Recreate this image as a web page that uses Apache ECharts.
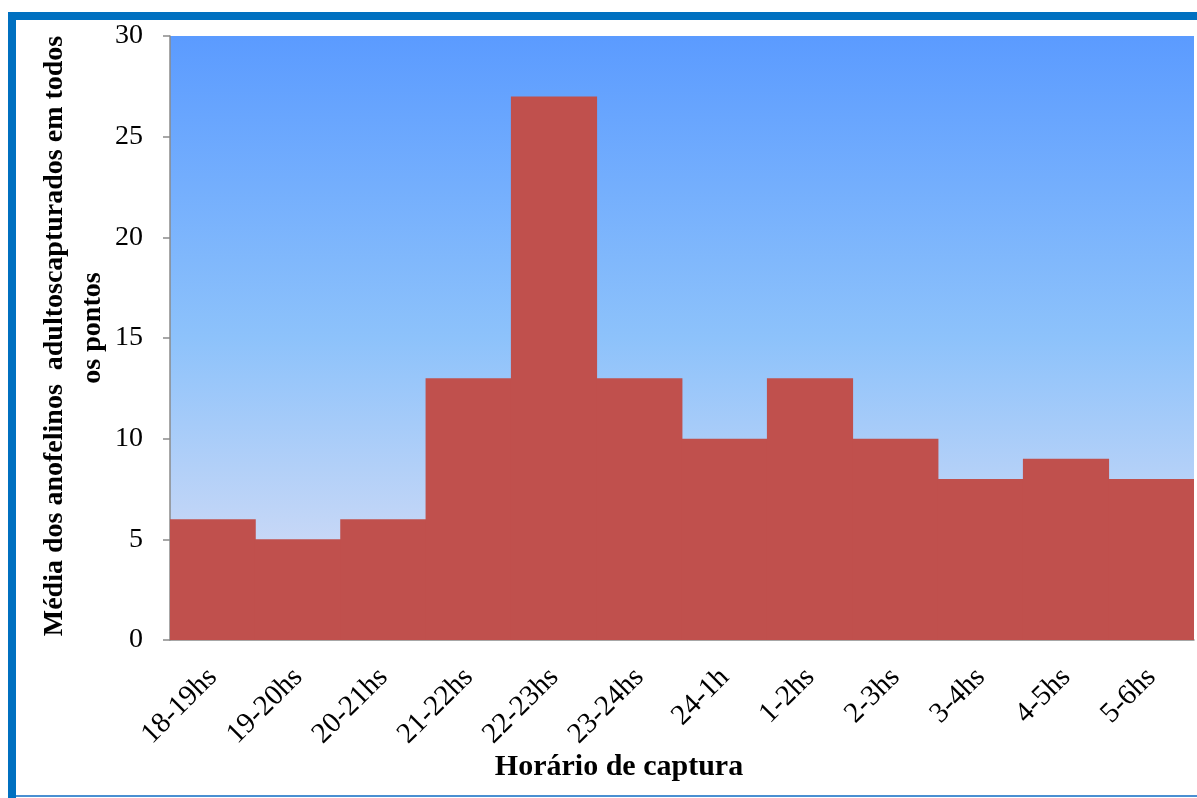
<!DOCTYPE html>
<html>
<head>
<meta charset="utf-8">
<script src="https://cdn.jsdelivr.net/npm/echarts@6/dist/echarts.min.js"></script>
<style>
  html, body { margin: 0; padding: 0; background: #ffffff; }
  #chart { width: 1197px; height: 798px; }
</style>
</head>
<body>
<div id="chart"></div>
<script>
// Capture hour intervals and mean number of adult anophelines captured
const horarios = ['18-19hs', '19-20hs', '20-21hs', '21-22hs', '22-23hs', '23-24hs',
                  '24-1h', '1-2hs', '2-3hs', '3-4hs', '4-5hs', '5-6hs'];
const mediaCapturados = [6, 5, 6, 13, 27, 13, 10, 13, 10, 8, 9, 8];
const yTicks = [0, 5, 10, 15, 20, 25, 30];

const tituloX = 'Horário de captura';
const tituloYLinha1 = 'Média dos anofelinos  adultoscapturados em todos';
const tituloYLinha2 = 'os pontos';

const serif = '"Liberation Serif", "Times New Roman", serif';

const chart = echarts.init(document.getElementById('chart'), null, { renderer: 'canvas' });

chart.setOption({
  animation: false,
  backgroundColor: '#ffffff',
  grid: {
    left: 170, top: 36, right: 3, bottom: 158,
    show: true,
    borderWidth: 0,
    backgroundColor: new echarts.graphic.LinearGradient(0, 0, 0, 1, [
      { offset: 0, color: '#5b9bff' },
      { offset: 0.5, color: '#8dc2fb' },
      { offset: 1, color: '#e3e2f4' }
    ])
  },
  xAxis: {
    type: 'category',
    data: horarios,
    axisLine: { show: true, lineStyle: { color: '#8a8a8a', width: 1.5 } },
    axisTick: { show: false },
    axisLabel: {
      rotate: 45,
      margin: 33,
      color: '#000000',
      fontFamily: serif,
      fontSize: 29,
      interval: 0
    }
  },
  yAxis: {
    type: 'value',
    min: yTicks[0],
    max: yTicks[yTicks.length - 1],
    interval: yTicks[1] - yTicks[0],
    splitLine: { show: false },
    axisLine: { show: true, lineStyle: { color: '#8a8a8a', width: 1.5 } },
    axisTick: { show: true, length: 7, lineStyle: { color: '#8a8a8a', width: 1.5 } },
    axisLabel: {
      margin: 27,
      color: '#000000',
      fontFamily: serif,
      fontSize: 28
    }
  },
  series: [{
    type: 'bar',
    data: mediaCapturados,
    // adjacent bars touch with no visible seam between them
    barWidth: '101%',
    itemStyle: { color: '#c0504d', borderWidth: 0 }
  }],
  graphic: [
    // blue frame around the figure
    { type: 'rect', shape: { x: 8, y: 12, width: 1189, height: 8 }, style: { fill: '#0070c0' }, z: 100 },
    { type: 'rect', shape: { x: 8, y: 12, width: 8, height: 786 }, style: { fill: '#0070c0' }, z: 100 },
    { type: 'rect', shape: { x: 16, y: 795, width: 1181, height: 2 }, style: { fill: '#4a8fd2' }, z: 100 },
    // horizontal axis title
    {
      type: 'text', x: 619, y: 767,
      style: {
        text: tituloX, fill: '#000000',
        font: 'bold 30px ' + serif,
        align: 'center', verticalAlign: 'middle'
      }
    },
    // two-line vertical axis title
    {
      type: 'text', x: 55, y: 336, rotation: Math.PI / 2,
      style: {
        text: tituloYLinha1, fill: '#000000',
        font: 'bold 28px ' + serif,
        align: 'center', verticalAlign: 'middle'
      }
    },
    {
      type: 'text', x: 93, y: 328, rotation: Math.PI / 2,
      style: {
        text: tituloYLinha2, fill: '#000000',
        font: 'bold 28px ' + serif,
        align: 'center', verticalAlign: 'middle'
      }
    }
  ]
});
</script>
</body>
</html>
